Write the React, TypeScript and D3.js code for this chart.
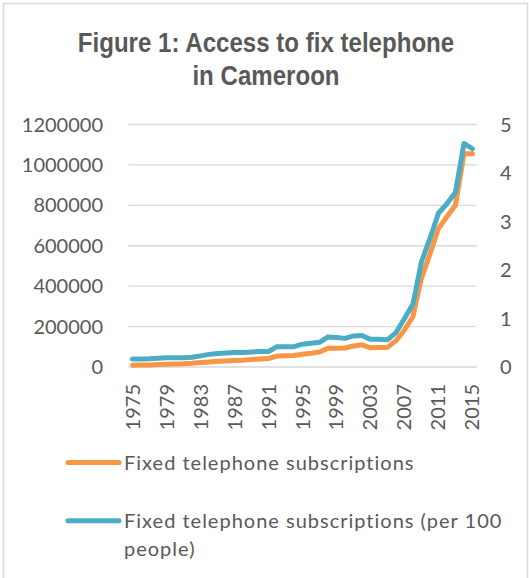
import React from "react";
import * as d3 from "d3";

const years: number[] = d3.range(1975, 2016);
const subscriptions: number[] = [
  9000, 9500, 10000, 12000, 14000, 15000, 16000, 18000, 22000, 25000,
  28000, 30000, 32000, 34000, 37000, 40000, 42000, 54000, 56000, 57000,
  63000, 68000, 74000, 93000, 93000, 94000, 104000, 110000, 95000, 96000,
  97000, 130000, 183000, 250000, 440000, 560000, 685000, 745000, 800000, 1055000,
  1055000,
];
const per100: number[] = [
  0.165, 0.165, 0.17, 0.18, 0.19, 0.19, 0.19, 0.2, 0.23, 0.26,
  0.28, 0.29, 0.3, 0.3, 0.31, 0.32, 0.32, 0.42, 0.42, 0.42,
  0.47, 0.49, 0.51, 0.62, 0.61, 0.59, 0.64, 0.65, 0.57, 0.57,
  0.56, 0.71, 1.0, 1.3, 2.17, 2.65, 3.17, 3.37, 3.6, 4.61,
  4.5,
];
const leftTicks: number[] = [0, 200000, 400000, 600000, 800000, 1000000, 1200000];
const rightTicks: number[] = [0, 1, 2, 3, 4, 5];
const xTickYears: number[] = d3.range(1975, 2016, 4);
const titleLines: string[] = ["Figure 1: Access to fix telephone", "in Cameroon"];
const seriesNames: string[] = [
  "Fixed telephone subscriptions",
  "Fixed telephone subscriptions (per 100",
];

const W = 529;
const H = 578;
const ORANGE = "#F79646";
const BLUE = "#4BACC6";
const TEXT = "#595959";
const GRID = "#D9D9D9";
const FONT = "Lato, 'Open Sans', sans-serif";

export default function App() {
  const left = 128.3;
  const right = 476.7;
  const top = 124.5;
  const bottom = 367;

  const x = d3
    .scaleBand<number>()
    .domain(years)
    .range([left, right])
    .padding(0);
  const xc = (yr: number) => (x(yr) as number) + x.bandwidth() / 2;
  const yL = d3.scaleLinear().domain([0, 1200000]).range([bottom, top]);
  const yR = d3.scaleLinear().domain([0, 5]).range([bottom, top]);

  const lineL = d3
    .line<number>()
    .x((_, i) => xc(years[i]))
    .y((d) => yL(d));
  const lineR = d3
    .line<number>()
    .x((_, i) => xc(years[i]))
    .y((d) => yR(d));

  return (
    <svg
      width={W}
      height={H}
      style={{ position: "absolute", left: 0, top: 0, background: "#fff" }}
    >
      <rect x={0} y={0} width={W} height={H} fill="#fff" />
      <rect
        x={3.5}
        y={3.5}
        width={W - 5}
        height={H}
        fill="none"
        stroke={GRID}
        strokeWidth={1.5}
      />
      {/* title */}
      {titleLines.map((t, i) => (
        <text
          key={t}
          x={0}
          y={0}
          transform={`translate(266, ${51.5 + i * 33}) scale(0.86, 1)`}
          textAnchor="middle"
          fontFamily="'Liberation Sans', Arial, sans-serif"
          fontWeight="bold"
          fontSize={28}
          fill={TEXT}
        >
          {t}
        </text>
      ))}
      {/* gridlines */}
      {leftTicks.map((t) => (
        <line
          key={"g" + t}
          x1={left}
          x2={right}
          y1={yL(t)}
          y2={yL(t)}
          stroke={GRID}
          strokeWidth={1.3}
        />
      ))}
      {/* left axis labels */}
      {leftTicks.map((t) => (
        <text
          key={"l" + t}
          x={103}
          y={yL(t)}
          dy="0.35em"
          textAnchor="end"
          fontFamily={FONT}
          fontSize={20}
          fill={TEXT}
        >
          {t}
        </text>
      ))}
      {/* right axis labels */}
      {rightTicks.map((t) => (
        <text
          key={"r" + t}
          x={500}
          y={yR(t)}
          dy="0.35em"
          textAnchor="start"
          fontFamily={FONT}
          fontSize={20}
          fill={TEXT}
        >
          {t}
        </text>
      ))}
      {/* x labels */}
      {xTickYears.map((yr) => (
        <text
          key={"x" + yr}
          transform={`translate(${xc(yr) + 7}, ${bottom + 17}) rotate(-90)`}
          textAnchor="end"
          fontFamily={FONT}
          fontSize={20}
          fill={TEXT}
        >
          {yr}
        </text>
      ))}
      {/* lines */}
      <path
        d={lineL(subscriptions) || ""}
        fill="none"
        stroke={ORANGE}
        strokeWidth={5}
        strokeLinejoin="round"
        strokeLinecap="round"
      />
      <path
        d={lineR(per100) || ""}
        fill="none"
        stroke={BLUE}
        strokeWidth={5}
        strokeLinejoin="round"
        strokeLinecap="round"
      />
      {/* legend */}
      {[ORANGE, BLUE].map((c, i) => {
        const ly = i === 0 ? 462.6 : 520.8;
        return (
          <g key={"leg" + i}>
            <line
              x1={68}
              x2={119}
              y1={ly}
              y2={ly}
              stroke={c}
              strokeWidth={5}
              strokeLinecap="round"
            />
            <text
              x={124}
              y={ly}
              dy="0.35em"
              fontFamily={FONT}
              fontSize={20}
              letterSpacing={1}
              fill={TEXT}
            >
              {seriesNames[i]}
            </text>
          </g>
        );
      })}
      <text
        x={124}
        y={549}
        dy="0.35em"
        fontFamily={FONT}
        fontSize={20}
        letterSpacing={1}
        fill={TEXT}
      >
        people)
      </text>
    </svg>
  );
}
